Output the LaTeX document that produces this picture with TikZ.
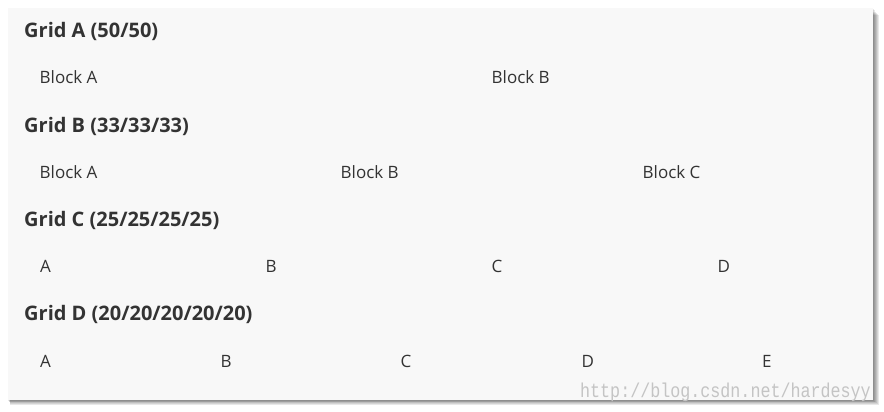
\documentclass[tikz,border=0pt]{standalone}
\usepackage{fontspec}
\setmainfont{Open Sans}
\setmonofont{Liberation Mono}
\definecolor{panel}{HTML}{F8F8F8}
\definecolor{ink}{HTML}{333333}
\definecolor{wm}{HTML}{C4C4C4}
\tikzset{
  heading/.style={anchor=base west, inner sep=0pt, text=ink, font=\fontsize{20}{24}\selectfont\bfseries},
  cell/.style={anchor=base west, inner sep=0pt, text=ink, font=\fontsize{17}{20}\selectfont},
  watermark/.style={anchor=base east, inner sep=0pt, text=wm, font=\fontsize{16.7}{20}\ttfamily}
}
\begin{document}
\begin{tikzpicture}[x=1pt,y=-1pt]
\useasboundingbox (0,0) rectangle (884,412);
\fill[white] (0,0) rectangle (884,412);
% shadow
\foreach \i in {1,...,6}{
  \fill[black,opacity=0.09] (8+\i*0.4,8+\i*1.2) rectangle (873+\i,400+\i*0.8);
}
\fill[panel] (8,8) rectangle (873,400);
% Grid A
\node[heading] (ga) at (24,37.7) {Grid A (50/50)};
\node[cell] (a1) at (39.5,84) {Block A};
\node[cell] (a2) at (491.5,84) {Block B};
% Grid B
\node[heading] (gb) at (24,132) {Grid B (33/33/33)};
\node[cell] (b1) at (39.5,178.3) {Block A};
\node[cell] (b2) at (340.5,178.3) {Block B};
\node[cell] (b3) at (642.5,178.3) {Block C};
% Grid C
\node[heading] (gc) at (24,226.3) {Grid C (25/25/25/25)};
\node[cell] (c1) at (40,272.6) {A};
\node[cell] (c2) at (265.5,272.6) {B};
\node[cell] (c3) at (491.5,272.6) {C};
\node[cell] (c4) at (717.5,272.6) {D};
% Grid D
\node[heading] (gd) at (24,320.6) {Grid D (20/20/20/20/20)};
\node[cell] (d1) at (40,367) {A};
\node[cell] (d2) at (220.5,367) {B};
\node[cell] (d3) at (400.5,367) {C};
\node[cell] (d4) at (581.5,367) {D};
\node[cell] (d5) at (762,367) {E};
% watermark
\node[watermark] (wmk) at (871,397) {\scalebox{1}[1.2]{http://blog.csdn.net/hardesyy}};
\end{tikzpicture}
\end{document}
